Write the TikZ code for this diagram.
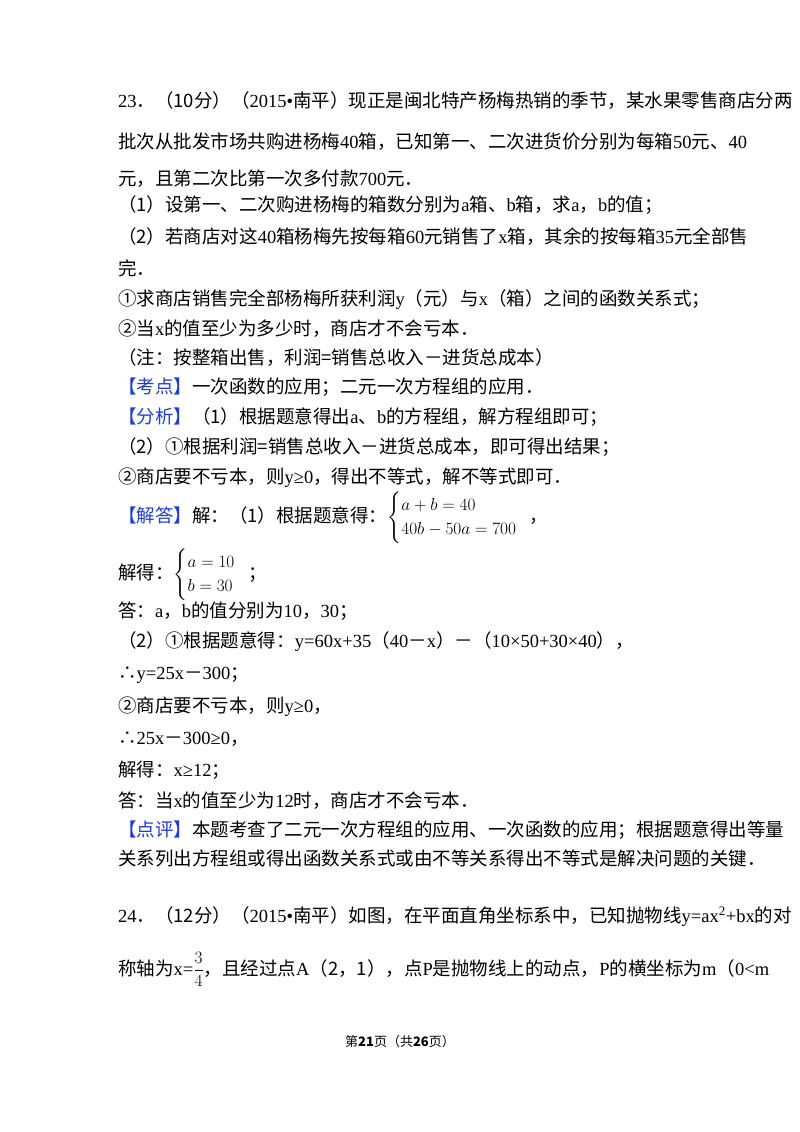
\documentclass[tikz,border=0pt]{standalone}
\usepackage{amsmath}
\usepackage{fontspec}
\setmainfont{Noto Sans CJK SC}
\newfontfamily\lat{Liberation Serif}
\definecolor{kb}{RGB}{30,60,230}
\tikzset{ln/.style={anchor=base west,inner sep=0pt,font=\fontsize{18.5}{20}\selectfont}}
\newcommand{\kb}[1]{\textcolor{kb}{【#1】}}
\begin{document}
\begin{tikzpicture}[x=1pt,y=-1pt]
\useasboundingbox (0,0) rectangle (800,1132);
\fill[white] (0,0) rectangle (800,1132);
\node[ln] (l1) at (118,107) {{\lat 23}．（10分）（{\lat 2015•}南平）现正是闽北特产杨梅热销的季节，某水果零售商店分两};
\node[ln] (l2) at (118,148) {批次从批发市场共购进杨梅{\lat 40}箱，已知第一、二次进货价分别为每箱{\lat 50}元、{\lat 40}};
\node[ln] (l3) at (118,185) {元，且第二次比第一次多付款{\lat 700}元．};
\node[ln] (l4) at (118,211) {（1）设第一、二次购进杨梅的箱数分别为{\lat a}箱、{\lat b}箱，求{\lat a}，{\lat b}的值；};
\node[ln] (l5) at (118,243) {（2）若商店对这{\lat 40}箱杨梅先按每箱{\lat 60}元销售了{\lat x}箱，其余的按每箱{\lat 35}元全部售};
\node[ln] (l6) at (118,275) {完．};
\node[ln] (l7) at (118,305) {①求商店销售完全部杨梅所获利润{\lat y}（元）与{\lat x}（箱）之间的函数关系式；};
\node[ln] (l8) at (118,335) {②当{\lat x}的值至少为多少时，商店才不会亏本．};
\node[ln] (l9) at (118,364) {（注：按整箱出售，利润=销售总收入－进货总成本）};
\node[ln] (l10) at (118,393) {\kb{考点}一次函数的应用；二元一次方程组的应用．};
\node[ln] (l11) at (118,423) {\kb{分析}（1）根据题意得出{\lat a}、{\lat b}的方程组，解方程组即可；};
\node[ln] (l12) at (118,453) {（2）①根据利润=销售总收入－进货总成本，即可得出结果；};
\node[ln] (l13) at (118,483) {②商店要不亏本，则{\lat y≥0}，得出不等式，解不等式即可．};
\node[ln] (l14) at (118,522) {\kb{解答}解：（1）根据题意得：$\begin{cases}a+b=40\\40b-50a=700\end{cases}$\hspace{-6pt}，};
\node[ln] (l15) at (118,579) {解得：$\begin{cases}a=10\\b=30\end{cases}$\hspace{-6pt}；};
\node[ln] (l16) at (118,617) {答：{\lat a}，{\lat b}的值分别为{\lat 10}，{\lat 30}；};
\node[ln] (l17) at (118,647) {（2）①根据题意得：{\lat y=60x+35}（{\lat 40}－{\lat x}）－（{\lat 10×50+30×40}），};
\node[ln] (l18) at (118,679) {∴{\lat y=25x}－{\lat 300}；};
\node[ln] (l19) at (118,712) {②商店要不亏本，则{\lat y≥0}，};
\node[ln] (l20) at (118,744) {∴{\lat 25x}－{\lat 300≥0}，};
\node[ln] (l21) at (118,776) {解得：{\lat x≥12}；};
\node[ln] (l22) at (118,807) {答：当{\lat x}的值至少为{\lat 12}时，商店才不会亏本．};
\node[ln] (l23) at (118,836) {\kb{点评}本题考查了二元一次方程组的应用、一次函数的应用；根据题意得出等量};
\node[ln] (l24) at (118,865) {关系列出方程组或得出函数关系式或由不等关系得出不等式是解决问题的关键．};
\node[ln] (l25) at (118,922) {{\lat 24}．（12分）（{\lat 2015•}南平）如图，在平面直角坐标系中，已知抛物线{\lat y=ax\textsuperscript{2}+bx}的对};
\node[ln] (l26) at (118,975) {称轴为{\lat x=}$\dfrac{3}{4}$，且经过点{\lat A}（2，1），点{\lat P}是抛物线上的动点，{\lat P}的横坐标为{\lat m}（{\lat 0<m}};
\node[anchor=base,inner sep=0pt,font=\fontsize{13}{14}\selectfont] (ft) at (400,1046) {第\textbf{21}页（共\textbf{26}页）};
\end{tikzpicture}
\end{document}
